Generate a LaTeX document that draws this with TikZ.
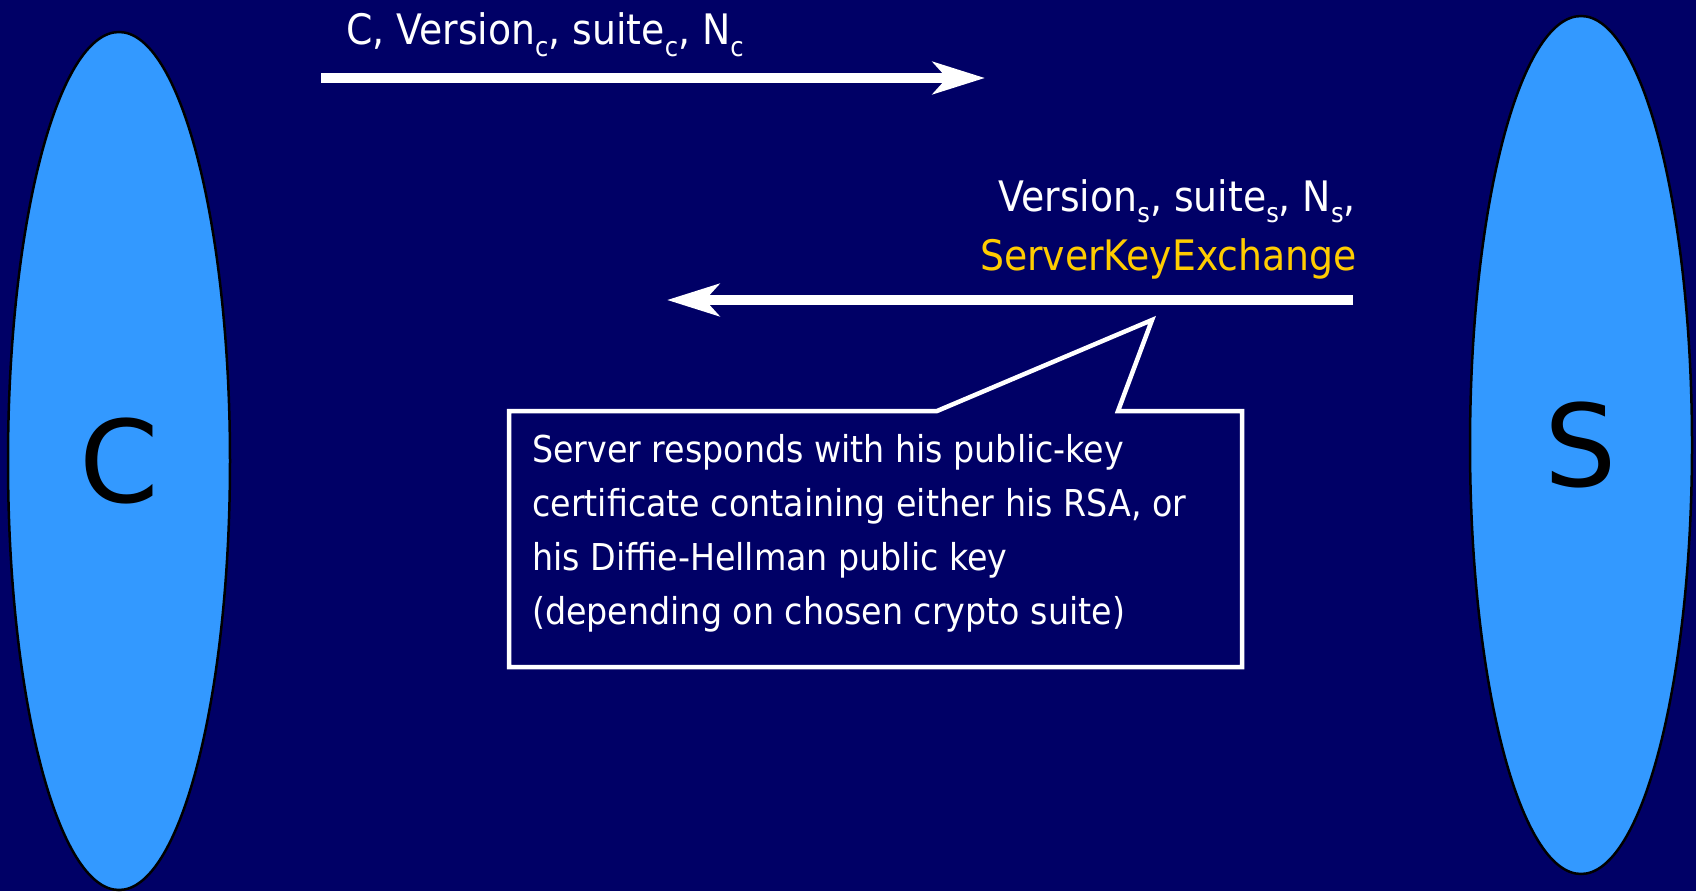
\documentclass[tikz,border=0pt]{standalone}
\usepackage{fontspec}
\setmainfont{DejaVu Sans Condensed}
\newfontfamily\partyfont{DejaVu Sans}
\usetikzlibrary{shapes.geometric,arrows.meta}
\definecolor{navy}{HTML}{000066}
\definecolor{partyblue}{HTML}{3399FF}
\definecolor{keyyellow}{HTML}{FFCC00}
\newcommand\sbs[1]{\raisebox{-0.28em}{\fontsize{27}{27}\selectfont #1}}
\tikzset{
  party/.style={ellipse, draw=black, line width=2.5pt, fill=partyblue,
    inner sep=0pt, minimum width=222pt, minimum height=858pt,
    font=\partyfont\fontsize{114}{114}\selectfont, text=black},
  msg/.style={draw=white, line width=10pt,
    -{Stealth[length=52pt, width=32pt, inset=14pt]}},
  lbl/.style={text=white, inner sep=0pt, font=\fontsize{42}{54}\selectfont},
  bubble/.style={draw=white, line width=4.5pt, fill=navy, line join=miter}
}
\begin{document}
\begin{tikzpicture}[x=1pt,y=-1pt]
  % page and background
  \fill[navy] (0,0) rectangle (1696,891);
  \useasboundingbox (0,0) rectangle (1696,891);

  % the two parties
  \node[party] (client) at (119,461) {C};
  \node[party] (server) at (1581,445) {S};

  % message endpoints
  \coordinate (m1s) at (321,78);
  \coordinate (m1e) at (985,78);
  \coordinate (m2s) at (1353,300);
  \coordinate (m2e) at (667,300);

  % client hello
  \draw[msg] (m1s) -- (m1e);
  \node[lbl, anchor=base west] (m1lbl) at (346,45)
    {C, Version\sbs{c}, suite\sbs{c}, N\sbs{c}};

  % server hello
  \draw[msg] (m2s) -- (m2e);
  \node[lbl, anchor=base east] (m2lbl) at (1356,211)
    {Version\sbs{s}, suite\sbs{s}, N\sbs{s},};
  \node[lbl, anchor=base east, text=keyyellow] (m2key) at (1357,270)
    {ServerKeyExchange};

  % speech bubble
  \draw[bubble] (509,411) -- (937,411) -- (1152,320) -- (1118,411)
    -- (1242,411) -- (1242,667) -- (509,667) -- cycle;
  % base anchor of a multi-line node sits on its last line
  \node[lbl, anchor=base west, align=left, font=\fontsize{37}{54}\selectfont]
    (note) at (532,624)
    {Server responds with his public-key\\
     certificate containing either his RSA, or\\
     his Diffie-Hellman public key\\
     (depending on chosen crypto suite)};
\end{tikzpicture}
\end{document}
